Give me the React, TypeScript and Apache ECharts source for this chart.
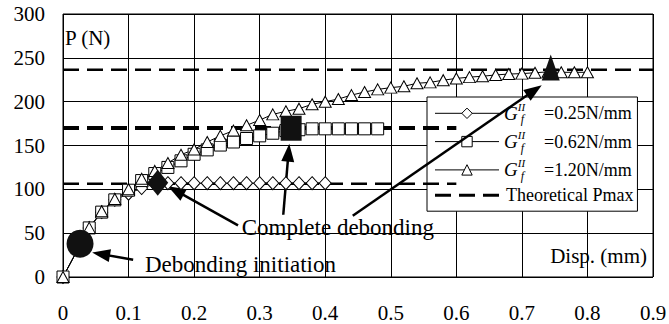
import React, { useEffect, useRef } from "react";
import * as echarts from "echarts";

// ---------- data ----------
const xMin = 0;
const xMax = 0.9;
const xStep = 0.1;
const yMin = 0;
const yMax = 300;
const yStep = 50;

const g025Name = "=0.25N/mm";
const g062Name = "=0.62N/mm";
const g120Name = "=1.20N/mm";
const pmaxName = "Theoretical Pmax";

const g025X = [0, 0.04, 0.059, 0.079, 0.1, 0.12, 0.14, 0.16, 0.18, 0.2, 0.22, 0.24, 0.26, 0.28, 0.3, 0.32, 0.34, 0.36, 0.38, 0.4];
const g025Y = [0, 56, 74, 88, 95, 101.5, 106, 107, 107, 107, 107, 107, 107, 107, 107, 107, 107, 107, 107, 107];

const g062X = [0, 0.04, 0.059, 0.079, 0.1, 0.12, 0.14, 0.16, 0.18, 0.2, 0.22, 0.24, 0.26, 0.28, 0.3, 0.32, 0.34, 0.36, 0.38, 0.4, 0.42, 0.44, 0.46, 0.48];
const g062Y = [0, 56, 74, 88, 99, 110, 118, 125, 132.5, 140, 145, 150.5, 154, 158, 161, 164, 167, 168, 169, 169, 169, 169, 169, 169];

const g120X = [0, 0.04, 0.059, 0.079, 0.1, 0.12, 0.14, 0.16, 0.18, 0.2, 0.22, 0.24, 0.26, 0.28, 0.3, 0.32, 0.34, 0.36, 0.38, 0.4, 0.42, 0.44, 0.46, 0.48, 0.5, 0.52, 0.54, 0.56, 0.58, 0.6, 0.62, 0.64, 0.66, 0.68, 0.7, 0.72, 0.74, 0.76, 0.78, 0.8];
const g120Y = [0, 56, 75, 89, 100, 112, 121, 130, 139.5, 145.5, 154, 161, 167, 173, 179, 185.5, 189, 192, 197, 200, 203, 207.5, 211, 214, 216, 217.5, 221, 222, 224.5, 226.5, 228, 229, 230.5, 231.5, 232, 233, 234, 233.5, 233.5, 233.5];

// theoretical maximum loads (dashed lines) and where each line ends
const pmaxValues = [106.5, 170, 236.5];
const pmaxEndX = [0.6, 0.6, 0.9];

// highlighted events: debonding initiation, complete debonding (x3)
const eventX = [0.026, 0.1445, 0.348, 0.744];
const eventY = [38, 107.5, 169.7, 239];

// annotation arrows (tail -> head centre), data coordinates
const arrowFromX = [0.107, 0.267, 0.336, 0.442];
const arrowFromY = [19.7, 58.9, 71, 69.9];
const arrowToX = [0.058, 0.172, 0.344, 0.719];
const arrowToY = [26.1, 98.6, 141.8, 213];

const labelInitiation = "Debonding initiation";
const labelComplete = "Complete debonding";
const yTitle = "P (N)";
const xTitle = "Disp. (mm)";

// ---------- styles ----------
const FONT = "Liberation Serif";
const pmaxWidths = [2.5, 4, 2.5];
const eventSymbols = ["circle", "diamond", "rect", "triangle"];
const eventSizes = [[27, 28], [21, 26], [21, 25], [18, 26]];
const arrowHeadSize = [13, 18];

const pairs = (xs: number[], ys: number[]) => xs.map((x, i) => [x, ys[i]]);

export default function App() {
  const ref = useRef<HTMLDivElement>(null);

  useEffect(() => {
    if (!ref.current) return;
    const chart = echarts.init(ref.current, null, { renderer: "svg" });

    const curve = (name: string, xs: number[], ys: number[], symbol: string, size: number[] | number) => ({
      name,
      type: "line",
      z: 5,
      data: pairs(xs, ys),
      symbol,
      symbolSize: size,
      showSymbol: true,
      silent: true,
      lineStyle: { color: "#000", width: 1 },
      itemStyle: { color: "#fff", borderColor: "#000", borderWidth: 1 },
      emphasis: { disabled: true },
    });

    const pmaxSeries = pmaxValues.map((v, i) => ({
      name: pmaxName,
      type: "line",
      z: 5,
      data: [[xMin, v], [pmaxEndX[i], v]],
      symbol: "none",
      silent: true,
      lineStyle: { color: "#000", width: pmaxWidths[i], type: [16, 8] },
      itemStyle: { color: "#000" },
      emphasis: { disabled: true },
    }));

    const eventSeries = {
      name: "events",
      type: "scatter",
      z: 6,
      silent: true,
      data: eventX.map((x, i) => ({
        value: [x, eventY[i]],
        symbol: eventSymbols[i],
        symbolSize: eventSizes[i],
      })),
      itemStyle: { color: "#111", opacity: 1 },
      emphasis: { disabled: true },
      markLine: {
        silent: true,
        symbol: ["none", "triangle"],
        symbolSize: 16,
        label: { show: false },
        emphasis: { disabled: true },
        lineStyle: { color: "#000", width: 2.5, type: "solid", opacity: 1 },
        itemStyle: { color: "#000" },
        data: arrowFromX.map((x, i) => [
          { coord: [x, arrowFromY[i]], symbol: "none" },
          { coord: [arrowToX[i], arrowToY[i]], symbol: "triangle", symbolSize: arrowHeadSize },
        ]),
      },
    };

    const tickFmt = (v: number) => String(Math.round(v * 10) / 10);

    chart.setOption({
      animation: false,
      backgroundColor: "#fff",
      textStyle: { fontFamily: FONT },
      grid: {
        left: 63,
        right: 16,
        top: 14,
        bottom: 47,
        show: true,
        borderColor: "#000",
        borderWidth: 1,
        backgroundColor: "transparent",
        containLabel: false,
        outerBoundsMode: "none",
      },
      xAxis: {
        type: "value",
        min: xMin,
        max: xMax,
        interval: xStep,
        axisLine: { show: false },
        axisTick: { show: false },
        splitLine: { show: true, lineStyle: { color: "#000", width: 1 } },
        axisLabel: {
          margin: 25,
          fontFamily: FONT,
          fontSize: 21,
          color: "#000",
          formatter: tickFmt,
        },
      },
      yAxis: {
        type: "value",
        min: yMin,
        max: yMax,
        interval: yStep,
        axisLine: { show: false },
        axisTick: { show: false },
        splitLine: { show: true, lineStyle: { color: "#000", width: 1 } },
        axisLabel: { margin: 18, fontFamily: FONT, fontSize: 21, color: "#000" },
      },
      legend: {
        show: true,
        orient: "vertical",
        left: 427,
        top: 97,
        z: 4,
        padding: [4.3, 4, 7, 6.5],
        itemGap: 4.3,
        itemWidth: 64,
        itemHeight: 13,
        backgroundColor: "#fff",
        borderColor: "#000",
        borderWidth: 1,
        borderRadius: 0,
        selectedMode: false,
        data: [
          { name: g025Name, itemStyle: { borderWidth: 1 }, lineStyle: { width: 1 } },
          { name: g062Name, itemStyle: { borderWidth: 1 }, lineStyle: { width: 1 } },
          { name: g120Name, itemStyle: { borderWidth: 1 }, lineStyle: { width: 1 } },
          { name: pmaxName, itemStyle: { opacity: 0 }, lineStyle: { width: 3 } },
        ],
        formatter: (name: string) =>
          name === pmaxName ? `{t|${name}}` : `{g|G}{sup|II}{sub|f}{v|${name}}`,
        textStyle: {
          fontFamily: FONT,
          fontSize: 18,
          color: "#000",
          rich: {
            g: { fontFamily: FONT, fontStyle: "italic", fontSize: 19, lineHeight: 24, color: "#000" },
            sup: { fontFamily: FONT, fontStyle: "italic", fontSize: 11, lineHeight: 12, verticalAlign: "top", width: 3, color: "#000" },
            sub: { fontFamily: FONT, fontStyle: "italic", fontSize: 12, lineHeight: 12, verticalAlign: "bottom", color: "#000" },
            v: { fontFamily: FONT, fontSize: 18, lineHeight: 24, padding: [0, 0, 0, 20], color: "#000" },
            t: { fontFamily: FONT, fontSize: 18, lineHeight: 24, padding: [0, 0, 0, 2], color: "#000" },
          },
        },
      },
      graphic: [
        { type: "text", x: 65, y: 38.3, z: 10, silent: true, style: { text: yTitle, fontFamily: FONT, fontSize: 21, fill: "#000", align: "left", verticalAlign: "middle" } },
        { type: "text", x: 647, y: 256.3, z: 10, silent: true, style: { text: xTitle, fontFamily: FONT, fontSize: 21, fill: "#000", align: "right", verticalAlign: "middle" } },
        { type: "text", x: 241.7, y: 227, z: 10, silent: true, style: { text: labelComplete, fontFamily: FONT, fontSize: 23, fill: "#000", align: "left", verticalAlign: "middle" } },
        { type: "text", x: 145, y: 264, z: 10, silent: true, style: { text: labelInitiation, fontFamily: FONT, fontSize: 23, fill: "#000", align: "left", verticalAlign: "middle" } },
      ],
      series: [
        ...pmaxSeries,
        curve(g025Name, g025X, g025Y, "diamond", [12, 13]),
        curve(g062Name, g062X, g062Y, "rect", 12),
        curve(g120Name, g120X, g120Y, "triangle", [12, 11]),
        eventSeries,
      ],
    });

    return () => chart.dispose();
  }, []);

  return (
    <div
      ref={ref}
      style={{ position: "fixed", left: 0, top: 0, width: 669, height: 324, background: "#fff" }}
    />
  );
}
